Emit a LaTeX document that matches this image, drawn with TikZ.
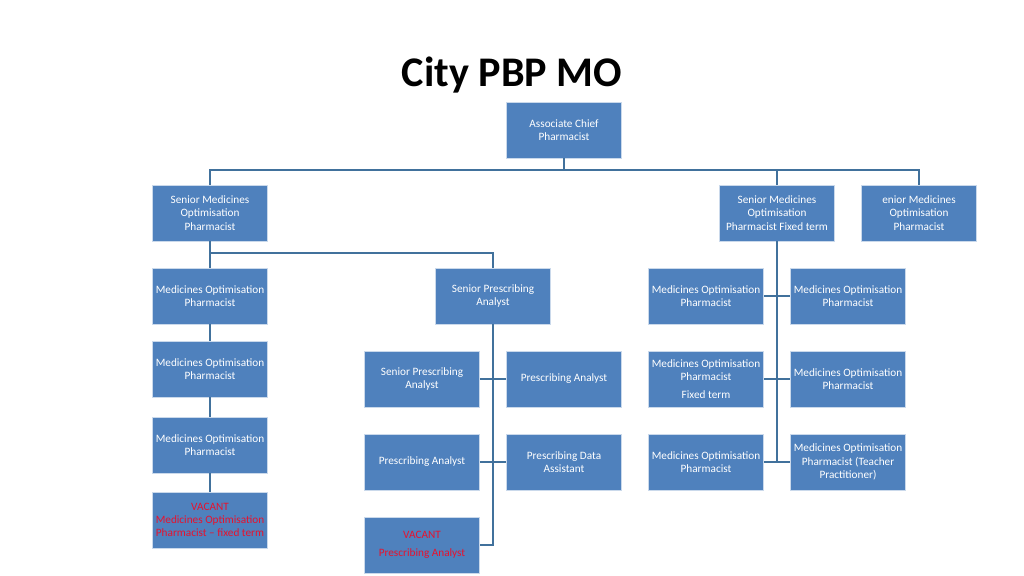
\documentclass[tikz,border=0pt]{standalone}
\usepackage{fontspec}
\setmainfont{Carlito}
\usetikzlibrary{positioning}
\definecolor{boxblue}{HTML}{4F81BD}
\definecolor{lineblue}{HTML}{41719C}
\definecolor{vacantred}{HTML}{E8112D}
\tikzset{
    post/.style={rectangle, draw=white!70!boxblue, fill=boxblue, text=white, align=center, minimum width=2.875cm, minimum height=1.4cm, inner sep=1pt, font=\fontsize{8}{9.5}\selectfont},
    vacant/.style={post, text=vacantred},
    link/.style={draw=lineblue, line width=1.2pt}
}
\begin{document}
\begin{tikzpicture}[x=0.025cm, y=-0.025cm]
        \useasboundingbox (0,0) rectangle (1024,575);
        % Title
        \node (title) at (512,75) {\fontsize{30}{34}\selectfont\bfseries City PBP MO};
        % Head
        \node (head) [post] at (564,130) {Associate Chief\\Pharmacist};
        % Senior row
        \node (smop) [post] at (210,213) {Senior Medicines\\Optimisation\\Pharmacist};
        \node (smopft) [post] at (777,213) {Senior Medicines\\Optimisation\\Pharmacist Fixed term};
        \node (smopb) [post] at (919,213) {enior Medicines\\Optimisation\\Pharmacist};
        % Left column
        \node (mopa) [post] at (210,296) {Medicines Optimisation\\Pharmacist};
        \node (mopb) [post] at (210,369) {Medicines Optimisation\\Pharmacist};
        \node (mopc) [post] at (210,445) {Medicines Optimisation\\Pharmacist};
        \node (mopv) [vacant] at (210,520) {VACANT\\Medicines Optimisation\\Pharmacist -- fixed term};
        % Prescribing team
        \node (spa) [post] at (493,296) {Senior Prescribing\\Analyst};
        \node (spab) [post] at (422,379) {Senior Prescribing\\Analyst};
        \node (pa) [post] at (564,379) {Prescribing Analyst};
        \node (pab) [post] at (422,462) {Prescribing Analyst};
        \node (pda) [post] at (564,462) {Prescribing Data\\Assistant};
        \node (pav) [vacant] at (422,545) {VACANT\\[3pt]Prescribing Analyst};
        % Fixed term team
        \node (ra) [post] at (706,296) {Medicines Optimisation\\Pharmacist};
        \node (rb) [post] at (848,296) {Medicines Optimisation\\Pharmacist};
        \node (rc) [post] at (706,379) {Medicines Optimisation\\Pharmacist\\[3pt]Fixed term};
        \node (rd) [post] at (848,379) {Medicines Optimisation\\Pharmacist};
        \node (re) [post] at (706,462) {Medicines Optimisation\\Pharmacist};
        \node (rf) [post] at (848,462) {Medicines Optimisation\\Pharmacist (Teacher\\Practitioner)};
        % Connectors
        \coordinate (bus) at (564,170);
        \draw[link] (head.south) -- (bus);
        \draw[link] (smop.north) |- (bus) -| (smopb.north);
        \draw[link] (smopft.north) -- (smopft.north |- bus);
        \coordinate (busb) at (210,253);
        \draw[link] (smop.south) -- (mopa.north);
        \draw[link] (busb) -| (spa.north);
        \draw[link] (mopa.south) -- (mopb.north);
        \draw[link] (mopb.south) -- (mopc.north);
        \draw[link] (mopc.south) -- (mopv.north);
        \coordinate (spaend) at (493,545);
        \draw[link] (spa.south) -- (spaend) -- (pav.east);
        \draw[link] (spab.east) -- (pa.west);
        \draw[link] (pab.east) -- (pda.west);
        \coordinate (ftend) at (777,462);
        \draw[link] (smopft.south) -- (ftend);
        \draw[link] (ra.east) -- (rb.west);
        \draw[link] (rc.east) -- (rd.west);
        \draw[link] (re.east) -- (rf.west);
    \end{tikzpicture}
\end{document}
